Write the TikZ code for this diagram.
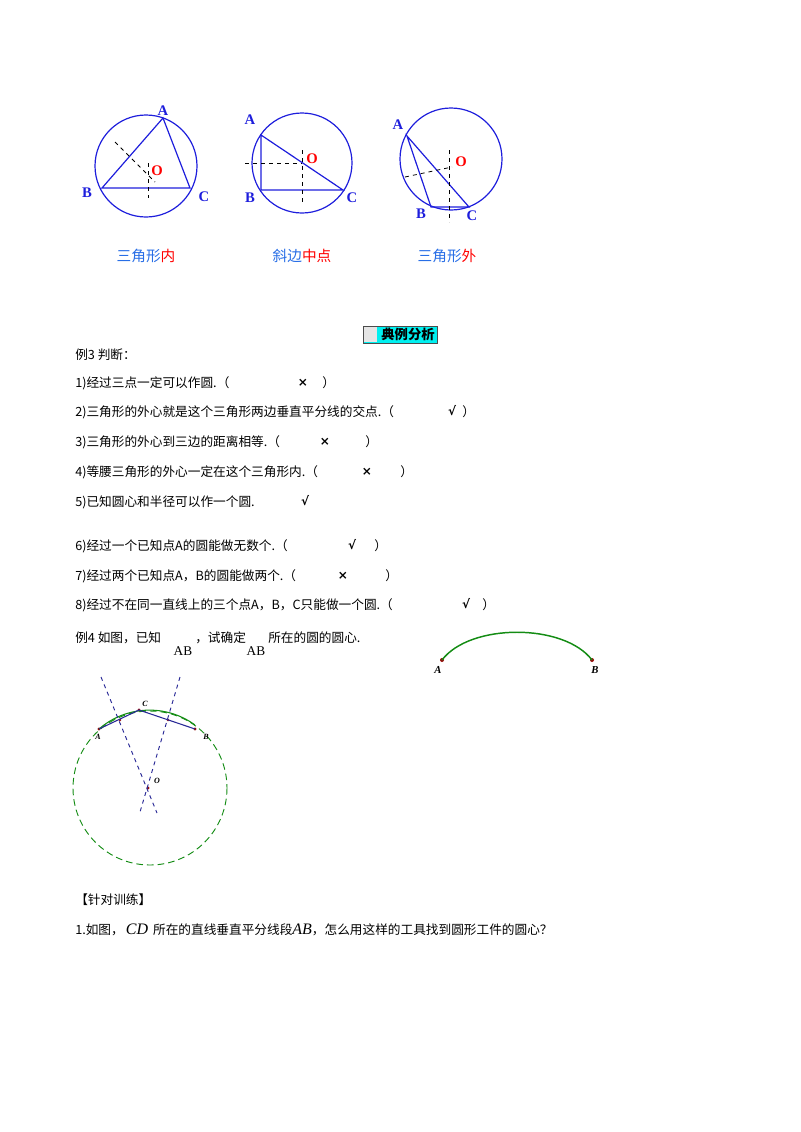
\documentclass[tikz,border=0pt]{standalone}
\usepackage{fontspec}
\setmainfont{Liberation Serif}
\newfontfamily\cjk{Noto Sans CJK SC}
\newfontfamily\mkfont{DejaVu Sans}
\begin{document}
\begin{tikzpicture}[x=0.75pt,y=-0.75pt,
 bl/.style={draw=geoblue,line width=0.9pt},
 dsh/.style={draw=black,dashed,line width=0.6pt},
 lab/.style={font=\bfseries\fontsize{11}{11}\selectfont,text=geoblue,inner sep=0},
 olab/.style={font=\bfseries\fontsize{11}{11}\selectfont,text=red,inner sep=0},
 txt/.style={font=\cjk\fontsize{9.5}{10}\selectfont,anchor=west,inner sep=0},
 mk/.style={font=\mkfont\bfseries\fontsize{9}{9}\selectfont,inner sep=0},
 pt/.style={circle,fill=dotred,inner sep=0,minimum size=3pt},
 sl/.style={font=\itshape\bfseries\fontsize{6}{6}\selectfont,inner sep=0}]
\definecolor{geoblue}{RGB}{30,30,220}
\definecolor{capblue}{RGB}{40,110,230}
\definecolor{dotred}{RGB}{150,10,10}
\definecolor{ggreen}{RGB}{20,140,20}
\definecolor{dblue}{RGB}{40,40,150}
\definecolor{hcyan}{RGB}{0,240,240}
\useasboundingbox (0,0) rectangle (800,1132);
% circle 1
\draw[bl] (146,166) circle (51);
\coordinate (a1) at (163,118); \coordinate (b1) at (102,188); \coordinate (c1) at (190,188);
\draw[bl] (a1)--(b1)--(c1)--cycle;
\draw[dsh] (115,142)--(155,182); \draw[dsh] (148,163)--(148,198);
\node[lab] (A1) at (163,111) {A}; \node[lab] (B1) at (87,193) {B}; \node[lab] (C1) at (204,197) {C};
\node[olab] (O1) at (157,171) {O};
% circle 2
\draw[bl] (302,163) circle (50);
\coordinate (a2) at (261,135); \coordinate (b2) at (261,190); \coordinate (c2) at (343,190);
\draw[bl] (a2)--(b2)--(c2)--cycle;
\draw[dsh] (245,163)--(302,163); \draw[dsh] (302,150)--(302,205);
\node[lab] (A2) at (250,120) {A}; \node[lab] (B2) at (250,198) {B}; \node[lab] (C2) at (352,198) {C};
\node[olab] (O2) at (312,159) {O};
% circle 3
\draw[bl] (451,159) circle (51);
\coordinate (a3) at (407,136); \coordinate (b3) at (431,207); \coordinate (c3) at (469,207);
\draw[bl] (a3)--(b3)--(c3)--cycle;
\draw[dsh] (449,150)--(449,222); \draw[dsh] (405,177)--(452,167);
\node[lab] (A3) at (398,125) {A}; \node[lab] (B3) at (421,214) {B}; \node[lab] (C3) at (472,216) {C};
\node[olab] (O3) at (461,162) {O};
% captions
\node[font=\cjk\fontsize{11}{11}\selectfont,inner sep=0] (cap1) at (146,256) {\textcolor{capblue}{三角形}\textcolor{red}{内}};
\node[font=\cjk\fontsize{11}{11}\selectfont,inner sep=0] (cap2) at (302,256) {\textcolor{capblue}{斜边}\textcolor{red}{中点}};
\node[font=\cjk\fontsize{11}{11}\selectfont,inner sep=0] (cap3) at (447,256) {\textcolor{capblue}{三角形}\textcolor{red}{外}};
% heading
\fill[hcyan] (363,326) rectangle (437,343);
\fill[gray!20] (364,327) rectangle (377,342);
\draw[gray!60!black,line width=0.5pt] (363,326) rectangle (437,343);
\node[font=\cjk\bfseries\fontsize{10}{10}\selectfont,inner sep=0] (hd) at (408,334.5) {典例分析};
% lines
\node[txt] (l0) at (75,355) {例3 判断：};
\node[txt] (l1) at (75,383) {1)经过三点一定可以作圆.（}; \node[mk] (m1) at (303,383) {×}; \node[txt] (r1) at (322,383) {）};
\node[txt] (l2) at (75,412) {2)三角形的外心就是这个三角形两边垂直平分线的交点.（}; \node[mk] (m2) at (452,411) {√}; \node[txt] (r2) at (462,412) {）};
\node[txt] (l3) at (75,442) {3)三角形的外心到三边的距离相等.（}; \node[mk] (m3) at (325,442) {×}; \node[txt] (r3) at (365,442) {）};
\node[txt] (l4) at (75,472) {4)等腰三角形的外心一定在这个三角形内.（}; \node[mk] (m4) at (367,472) {×}; \node[txt] (r4) at (400,472) {）};
\node[txt] (l5) at (75,502) {5)已知圆心和半径可以作一个圆.}; \node[mk] (m5) at (305,501) {√};
\node[txt] (l6) at (75,546) {6)经过一个已知点A的圆能做无数个.（}; \node[mk] (m6) at (352,545) {√}; \node[txt] (r6) at (374,546) {）};
\node[txt] (l7) at (75,576) {7)经过两个已知点A，B的圆能做两个.（}; \node[mk] (m7) at (343,576) {×}; \node[txt] (r7) at (385,576) {）};
\node[txt] (l8) at (75,605) {8)经过不在同一直线上的三个点A，B，C只能做一个圆.（}; \node[mk] (m8) at (466,604) {√}; \node[txt] (r8) at (482,605) {）};
\node[txt] (l9) at (75,638) {例4 如图，已知}; \node[txt] (l9b) at (195,638) {，试确定}; \node[txt] (l9c) at (268,638) {所在的圆的圆心.};
\node[font=\fontsize{10}{10}\selectfont,inner sep=0] (s1) at (183,651) {AB};
\node[font=\fontsize{10}{10}\selectfont,inner sep=0] (s2) at (256,651) {AB};
% right arc
\node[pt] (pA) at (442,660) {}; \node[pt] (pB) at (592,660) {};
\draw[ggreen,line width=1.1pt] (pA.center) .. controls (470,623) and (564,623) .. (pB.center);
\node[sl,font=\itshape\bfseries\fontsize{8}{8}\selectfont] (lA) at (438,670) {A};
\node[sl,font=\itshape\bfseries\fontsize{8}{8}\selectfont] (lB) at (595,670) {B};
% lower figure
\coordinate (O) at (150,788);
\draw[ggreen,dashed,dash pattern=on 5pt off 3pt,line width=0.7pt] (O) circle (77);
\node[pt,minimum size=2.5pt] (pa) at (99,729) {}; \node[pt,minimum size=2.5pt] (pb) at (195,729) {};
\node[pt,minimum size=2.5pt] (pc) at (139,710) {}; \node[pt,minimum size=2.5pt] (po) at (148,788) {};
\node[pt,minimum size=2pt] (m1p) at (120,720) {}; \node[pt,minimum size=2pt] (m2p) at (168,720) {};
\draw[ggreen,line width=0.8pt] (pa.center) arc[start angle=229,end angle=306,radius=77];
\draw[dblue,line width=0.8pt] (pa.center)--(pc.center)--(pb.center);
\draw[dblue,dashed,line width=0.7pt] (101,677)--(157,813);
\draw[dblue,dashed,line width=0.7pt] (180,677)--(140,812);
\node[sl] (lc) at (145,704) {C}; \node[sl] (la) at (98,737) {A};
\node[sl] (lb) at (206,737) {B}; \node[sl] (lo) at (157,781) {O};
% bottom
\node[txt] (t1) at (75,900) {【针对训练】};
\node[txt] (t2) at (75,930) {1.如图，\,{\rmfamily\itshape\fontsize{12}{12}\selectfont CD}\, 所在的直线垂直平分线段{\rmfamily\itshape\fontsize{12}{12}\selectfont AB}，怎么用这样的工具找到圆形工件的圆心？};
\end{tikzpicture}
\end{document}
